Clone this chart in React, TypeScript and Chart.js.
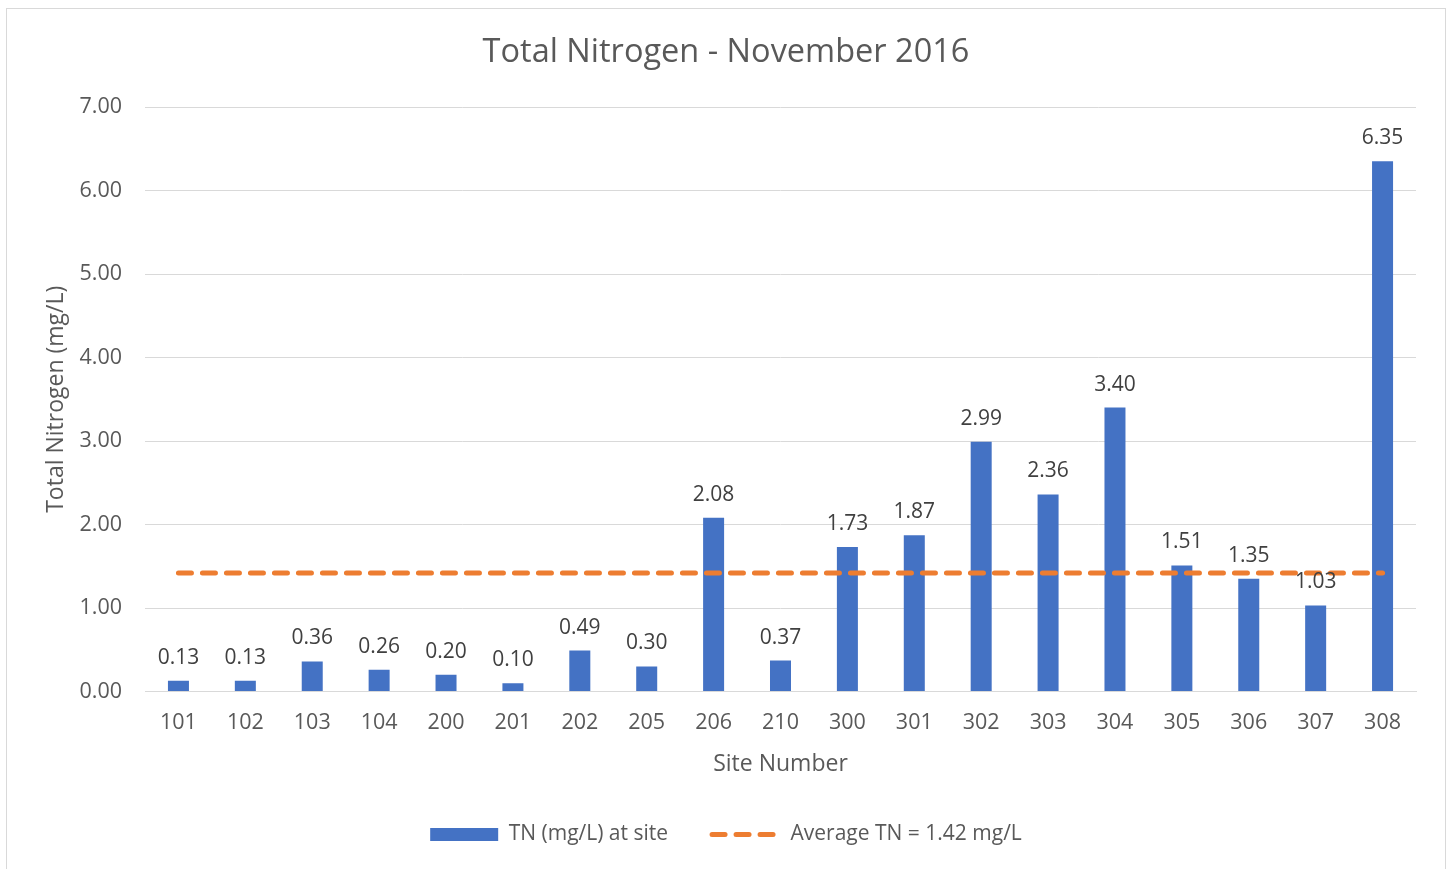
import React, { useEffect, useRef } from "react";
import { Chart, registerables } from "chart.js";

Chart.register(...registerables);

const sites = ["101", "102", "103", "104", "200", "201", "202", "205", "206", "210", "300", "301", "302", "303", "304", "305", "306", "307", "308"];
const tnValues = [0.13, 0.13, 0.36, 0.26, 0.2, 0.1, 0.49, 0.3, 2.08, 0.37, 1.73, 1.87, 2.99, 2.36, 3.4, 1.51, 1.35, 1.03, 6.35];
const averageTN = 1.42;
const averageValues = sites.map(() => averageTN);
const titleText = "Total Nitrogen - November 2016";
const barLabel = "TN (mg/L) at site";
const lineLabel = "Average TN = 1.42 mg/L";
const yTitle = "Total Nitrogen (mg/L)";
const xTitle = "Site Number";

const FONT = "'Open Sans', 'Noto Sans', sans-serif";
const TEXT = "#595959";
const ORANGE = "#ED7D31";
const BLUE = "#4472C4";
const DASH = [13, 11];

const dataLabelPlugin = {
  id: "dataLabels",
  afterDatasetsDraw(chart: any) {
    const meta = chart.getDatasetMeta(0);
    const ctx = chart.ctx;
    ctx.save();
    ctx.font = `21px ${FONT}`;
    ctx.fillStyle = "#404040";
    ctx.textAlign = "center";
    ctx.textBaseline = "alphabetic";
    meta.data.forEach((el: any, i: number) => {
      ctx.fillText(tnValues[i].toFixed(2), el.x, el.y - 17);
    });
    ctx.restore();
  },
};

export default function App() {
  const ref = useRef<HTMLCanvasElement | null>(null);
  useEffect(() => {
    if (!ref.current) return;
    const defaultLabels = Chart.defaults.plugins.legend.labels.generateLabels;
    const chart = new Chart(ref.current, {
      type: "bar",
      data: {
        labels: sites,
        datasets: [
          {
            type: "bar",
            label: barLabel,
            data: tnValues,
            backgroundColor: BLUE,
            borderWidth: 0,
            barPercentage: 0.314,
            categoryPercentage: 1,
            order: 1,
            pointStyle: "rect",
          } as any,
          {
            type: "line",
            label: lineLabel,
            data: averageValues,
            borderColor: ORANGE,
            backgroundColor: ORANGE,
            borderWidth: 5,
            borderDash: DASH,
            borderCapStyle: "round",
            pointRadius: 0,
            fill: false,
            order: 0,
            pointStyle: "line",
          } as any,
        ],
      },
      options: {
        animation: false,
        responsive: true,
        maintainAspectRatio: false,
        layout: { padding: { left: 0, right: 0, top: 0, bottom: 14 } },
        plugins: {
          title: {
            display: true,
            text: titleText,
            color: TEXT,
            font: { family: FONT, size: 32.5, weight: "normal" },
            padding: { top: 24, bottom: 35 },
          },
          legend: {
            position: "bottom",
            labels: {
              usePointStyle: true,
              pointStyleWidth: 68,
              boxHeight: 13,
              padding: 44,
              color: TEXT,
              font: { family: FONT, size: 21 },
              sort: (a: any, b: any) => a.datasetIndex - b.datasetIndex,
              generateLabels: (c: any) => {
                const items = defaultLabels(c);
                items.forEach((it: any) => {
                  if (it.datasetIndex === 1) {
                    it.lineDash = DASH;
                    it.lineCap = "round";
                    it.lineWidth = 5;
                    it.strokeStyle = ORANGE;
                    it.fillStyle = ORANGE;
                    it.pointStyle = "line";
                  } else {
                    it.lineWidth = 0;
                    it.fillStyle = BLUE;
                    it.pointStyle = "rect";
                  }
                });
                return items;
              },
            },
          },
          tooltip: { enabled: false },
        },
        scales: {
          x: {
            grid: { display: false, drawTicks: false },
            border: { display: true, color: "#d9d9d9", width: 1 },
            ticks: { color: TEXT, font: { family: FONT, size: 21.5 }, padding: 18 },
            title: {
              display: true,
              text: xTitle,
              color: TEXT,
              font: { family: FONT, size: 23 },
              padding: { top: 8, bottom: 2 },
            },
            afterFit: (scale: any) => {
              scale.height = 88.5;
            },
          },
          y: {
            min: 0,
            max: 7,
            ticks: {
              stepSize: 1,
              color: TEXT,
              font: { family: FONT, size: 21.5 },
              padding: 23,
              callback: (v: any) => Number(v).toFixed(2),
            },
            grid: { color: "#d9d9d9", lineWidth: 1, drawTicks: false },
            border: { display: false },
            title: {
              display: true,
              text: yTitle,
              color: TEXT,
              font: { family: FONT, size: 23 },
              padding: { top: 36, bottom: 10 },
            },
            afterFit: (scale: any) => {
              scale.width = 138;
            },
          },
          yRightSpace: {
            position: "right",
            display: true,
            ticks: { display: false },
            grid: { display: false, drawTicks: false },
            border: { display: false },
            afterFit: (scale: any) => {
              scale.width = 29;
            },
          } as any,
        },
      },
      plugins: [dataLabelPlugin],
    });
    return () => chart.destroy();
  }, []);
  return (
    <div
      style={{
        position: "absolute",
        left: 6,
        top: 8,
        width: 1440,
        height: 862,
        border: "1px solid #d9d9d9",
        boxSizing: "border-box",
        background: "#fff",
      }}
    >
      <canvas ref={ref} />
    </div>
  );
}
